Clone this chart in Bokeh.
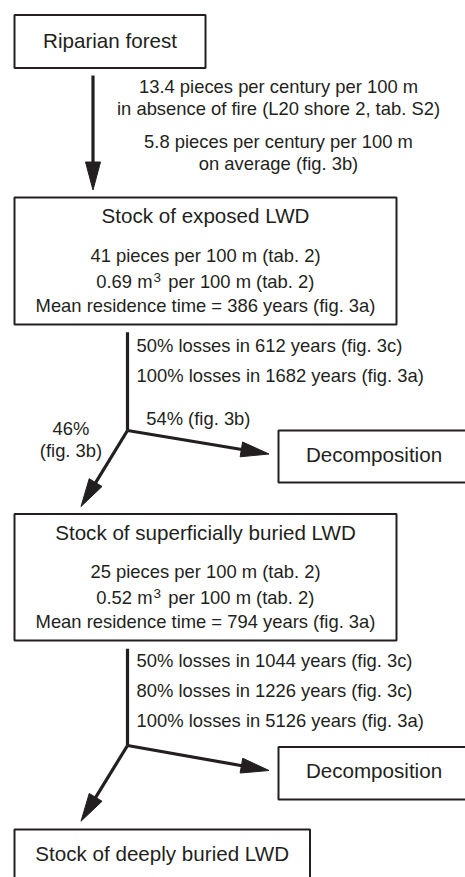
import numpy as np
from bokeh.plotting import figure
from bokeh.models import Range1d
from bokeh.core.properties import value
from bokeh.embed import file_html
from bokeh.resources import INLINE

# ---- content -------------------------------------------------------------
box_titles = ["Riparian forest", "Stock of exposed LWD", "Decomposition",
              "Stock of superficially buried LWD", "Decomposition",
              "Stock of deeply buried LWD"]
input_notes = ["13.4 pieces per century per 100 m",
               "in absence of fire (L20 shore 2, tab. S2)",
               "5.8 pieces per century per 100 m",
               "on average (fig. 3b)"]
exposed_stats = ["41 pieces per 100 m (tab. 2)",
                 "Mean residence time = 386 years (fig. 3a)"]
exposed_volume = ["0.69 m", "3", "per 100 m (tab. 2)"]
exposed_losses = ["50% losses in 612 years (fig. 3c)",
                  "100% losses in 1682 years (fig. 3a)"]
split_labels = ["54% (fig. 3b)", "46%", "(fig. 3b)"]
buried_stats = ["25 pieces per 100 m (tab. 2)",
                "Mean residence time = 794 years (fig. 3a)"]
buried_volume = ["0.52 m", "3", "per 100 m (tab. 2)"]
buried_losses = ["50% losses in 1044 years (fig. 3c)",
                 "80% losses in 1226 years (fig. 3c)",
                 "100% losses in 5126 years (fig. 3a)"]

# ---- layout (page pixel coordinates) --------------------------------------
box_left = [14, 14, 278, 14, 278, 14]
box_right = [205, 396, 480, 396, 480, 309.5]
box_top = [14.5, 197, 430, 513.5, 746.5, 829]
box_bottom = [67.5, 324, 482, 640, 799, 890]
title_x = [109.5, 205, 373.5, 205, 373.5, 161.7]
title_y = [47.6, 222.7, 461.7, 540, 777.3, 861]

INK = "#231f20"
FONT = value("Liberation Sans")
K = 0.37  # baseline correction factor (fraction of font size)

p = figure(width=465, height=877, output_backend="svg", toolbar_location=None,
           x_range=Range1d(0, 465), y_range=Range1d(877, 0),
           x_axis_type=None, y_axis_type=None, min_border=0,
           background_fill_color="white", border_fill_color="white")
p.grid.visible = False
p.outline_line_color = None

# boxes
p.quad(left=box_left, right=box_right, top=box_top, bottom=box_bottom,
       fill_color=None, line_color=INK, line_width=2)


def put(lines, xs, ys, align, size=18.4):
    if not isinstance(xs, list):
        xs = [xs] * len(lines)
    p.text(x=xs, y=[y - K * size for y in ys], text=lines, text_font=FONT,
           text_font_size=f"{size}px", text_color=INK, text_align=align,
           text_baseline="alphabetic")


# box titles
put(box_titles, title_x, title_y, "center", size=20.6)

put(input_notes, 278, [93.3, 115, 147.7, 170], "center")
put(exposed_stats, 205, [261.7, 312.3], "center")
put(exposed_losses, 136, [352.3, 382.3], "left")
put(split_labels[:1], 145.7, [425], "left")
put(split_labels[1:], 70.5, [435, 456.7], "center")
put(buried_stats, 205, [577.7, 628.3], "center")
put(buried_losses, 136, [667.3, 696.7, 726.7], "left")


def volume(parts, base_y):
    put(parts[:1], 152, [base_y], "right")
    put(parts[1:2], 153, [base_y - 6.6], "left", size=13.5)
    put(parts[2:], 167.7, [base_y], "left")


volume(exposed_volume, 288.3)
volume(buried_volume, 604.3)

# ---- arrows ---------------------------------------------------------------
arrows = [
    ((92.5, 75), (92.5, 189.5), True),
    ((127, 331.7), (127, 430), False),
    ((127, 430), (268.5, 453.5), True),
    ((127, 430), (80.5, 506), True),
    ((127, 648.3), (127, 745), False),
    ((127, 745), (268.5, 770), True),
    ((127, 745), (80.5, 820.7), True),
]
HEAD_L, HEAD_W = 28, 15
sx0, sy0, sx1, sy1 = [], [], [], []
hx, hy = [], []
for (x0, y0), (x1, y1), head in arrows:
    d = np.array([x1 - x0, y1 - y0], dtype=float)
    d /= np.hypot(*d)
    if head:
        base = np.array([x1, y1]) - HEAD_L * d
        n = np.array([-d[1], d[0]])
        a = base + HEAD_W / 2 * n
        b = base - HEAD_W / 2 * n
        hx.append([x1, a[0], b[0]])
        hy.append([y1, a[1], b[1]])
        ex, ey = base + 2 * d
    else:
        ex, ey = x1, y1
    sx0.append(x0); sy0.append(y0); sx1.append(ex); sy1.append(ey)

p.segment(x0=sx0, y0=sy0, x1=sx1, y1=sy1, line_color=INK, line_width=3.2,
          line_cap="butt")
p.patches(xs=hx, ys=hy, fill_color=INK, line_color=INK, line_width=1)

open("out.html", "w").write(file_html(p, INLINE))
